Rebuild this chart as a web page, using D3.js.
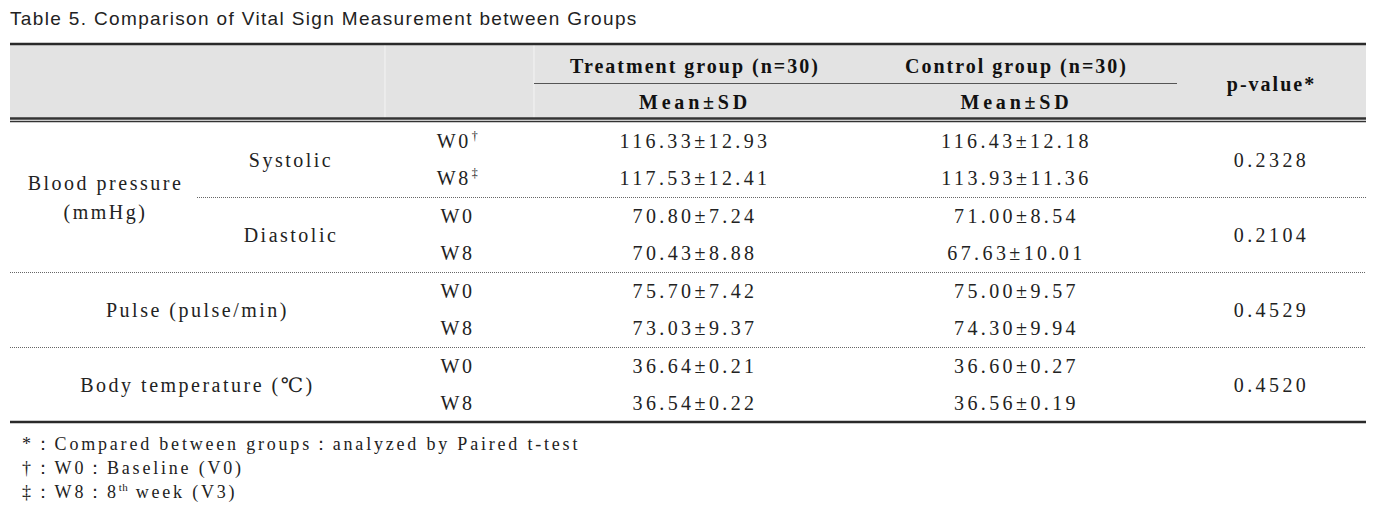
<!DOCTYPE html>
<html>
<head>
<meta charset="utf-8">
<script src="https://cdn.jsdelivr.net/npm/d3@7"></script>
<style>
  html, body { margin: 0; padding: 0; background: #ffffff; }
  svg { display: block; }
  .title { font-family: "Liberation Sans", Arial, sans-serif; font-size: 19px; fill: #222; letter-spacing: 1.35px; }
  .head { font-family: "Liberation Serif", "DejaVu Serif", serif; font-size: 20px; font-weight: bold; fill: #111; letter-spacing: 2px; }
  .stat { letter-spacing: 3.8px; }
  .cell { font-family: "Liberation Serif", "DejaVu Serif", serif; font-size: 20px; fill: #222; letter-spacing: 2.5px; }
  .num { letter-spacing: 3.4px; }
  .note { font-family: "Liberation Serif", "DejaVu Serif", serif; font-size: 18px; fill: #222; letter-spacing: 2.8px; }
  .sup { letter-spacing: 0.5px; }
</style>
</head>
<body>
<div id="table"></div>
<script>
// ---------------------------------------------------------------------------//
// Table data (Table 5. vital signs, treatment vs control)
// ---------------------------------------------------------------------------//
const titleText = "Table 5. Comparison of Vital Sign Measurement between Groups";
const groupHeads = ["Treatment group (n=30)", "Control group (n=30)"];
const statHead = "Mean\u00b1SD";
const pHead = "p-value*";

const measureLabels = [["Blood pressure", "(mmHg)"], ["Pulse (pulse/min)"], ["Body temperature (\u2103)"]];
const measureBlocks = [[0, 1], [2], [3]]; // which 2-row blocks each measure spans
const subLabels = ["Systolic", "Diastolic"]; // blocks 0 and 1 only

const timepoints = ["W0", "W8", "W0", "W8", "W0", "W8", "W0", "W8"];
const timeMarks = ["\u2020", "\u2021", "", "", "", "", "", ""];

const treatMean = [116.33, 117.53, 70.80, 70.43, 75.70, 73.03, 36.64, 36.54];
const treatSD = [12.93, 12.41, 7.24, 8.88, 7.42, 9.37, 0.21, 0.22];
const ctrlMean = [116.43, 113.93, 71.00, 67.63, 75.00, 74.30, 36.60, 36.56];
const ctrlSD = [12.18, 11.36, 8.54, 10.01, 9.57, 9.94, 0.27, 0.19];
const pValues = [0.2328, 0.2104, 0.4529, 0.4520]; // one per block of two rows

const footnotes = [
  { mark: "*", text: "\uff1aCompared between groups\uff1aanalyzed by Paired t-test" },
  { mark: "\u2020", text: "\uff1aW0\uff1aBaseline (V0)" },
  { mark: "\u2021", text: "\uff1aW8\uff1a8", sup: "th", rest: " week (V3)" },
];

// ---------------------------------------------------------------------------//
// Layout
// ---------------------------------------------------------------------------//
const width = 1386;
const height = 516;
const left = 10;
const right = 1366;
const colEdges = [left, 197, 385, 534, 856, 1177, right];
const headTop = 44;
const headBottom = 119;
const bodyTop = 122;
const bodyBottom = 422;

const fmt2 = d3.format(".2f");
const fmt4 = d3.format(".4f");

const y = d3.scaleBand().domain(d3.range(timepoints.length)).range([bodyTop, bodyBottom]);
const colMid = (i) => (colEdges[i] + colEdges[i + 1]) / 2;
const blockMid = (b) => y(b * 2) + y.bandwidth();

const svg = d3.select("#table").append("svg")
  .attr("width", width)
  .attr("height", height);

svg.append("text")
  .attr("class", "title")
  .attr("x", left)
  .attr("y", 25)
  .text(titleText);

// header background and rules
svg.append("rect")
  .attr("x", left).attr("y", headTop)
  .attr("width", right - left).attr("height", headBottom - headTop)
  .attr("fill", "#e3e3e3");

svg.selectAll("line.vdiv")
  .data([colEdges[2], colEdges[3]])
  .join("line")
  .attr("class", "vdiv")
  .attr("x1", (d) => d).attr("x2", (d) => d)
  .attr("y1", headTop).attr("y2", headBottom)
  .attr("stroke", "#f4f4f4").attr("stroke-width", 1);

svg.append("line")
  .attr("x1", colEdges[3]).attr("x2", colEdges[5])
  .attr("y1", 83.5).attr("y2", 83.5)
  .attr("stroke", "#555").attr("stroke-width", 1);

const hline = (yy, w, x1 = left, dash = null, color = "#2a2a2a") =>
  svg.append("line")
    .attr("x1", x1).attr("x2", right)
    .attr("y1", yy).attr("y2", yy)
    .attr("stroke", color).attr("stroke-width", w)
    .attr("stroke-dasharray", dash);

hline(headTop, 2.6);
hline(headBottom - 0.5, 2.4, left, null, "#333");
hline(bodyTop - 0.5, 1.4, left, null, "#333");
hline(bodyBottom, 2.6);

// dotted separators between blocks
const dotted = [
  { yy: y(2), x1: colEdges[1] },
  { yy: y(4), x1: left },
  { yy: y(6), x1: left },
];
dotted.forEach((d) => hline(Math.round(d.yy) + 0.5, 1, d.x1, "1,1", "#666"));

// header text
groupHeads.forEach((g, i) => {
  svg.append("text").attr("class", "head")
    .attr("x", colMid(3 + i)).attr("y", 66).attr("dy", "0.35em")
    .attr("text-anchor", "middle").text(g);
  svg.append("text").attr("class", "head stat")
    .attr("x", colMid(3 + i)).attr("y", 102).attr("dy", "0.35em")
    .attr("text-anchor", "middle").text(statHead);
});
svg.append("text").attr("class", "head")
  .attr("x", colMid(5)).attr("y", 84).attr("dy", "0.35em")
  .attr("text-anchor", "middle").text(pHead);

// measure labels
measureLabels.forEach((lines, m) => {
  const blocks = measureBlocks[m];
  const top = y(blocks[0] * 2);
  const bottom = y(blocks[blocks.length - 1] * 2 + 1) + y.bandwidth();
  const cy = (top + bottom) / 2;
  const cx = blocks.length > 1 ? colMid(0) + 2 : (colEdges[0] + colEdges[2]) / 2;
  const lh = 29;
  lines.forEach((ln, k) => {
    svg.append("text").attr("class", "cell")
      .attr("x", cx)
      .attr("y", cy + (k - (lines.length - 1) / 2) * lh)
      .attr("dy", "0.35em")
      .attr("text-anchor", "middle")
      .text(ln);
  });
});

// sub labels (Systolic / Diastolic)
subLabels.forEach((s, b) => {
  svg.append("text").attr("class", "cell")
    .attr("x", colMid(1)).attr("y", blockMid(b)).attr("dy", "0.35em")
    .attr("text-anchor", "middle").text(s);
});

// time points
const tp = svg.selectAll("text.tp")
  .data(timepoints)
  .join("text")
  .attr("class", "cell tp")
  .attr("x", colMid(2) - 2)
  .attr("y", (d, i) => y(i) + y.bandwidth() / 2)
  .attr("dy", "0.35em")
  .attr("text-anchor", "middle");
tp.append("tspan").text((d) => d);
tp.append("tspan")
  .attr("class", "sup")
  .attr("font-size", "12px")
  .attr("dx", 1)
  .attr("dy", -8)
  .text((d, i) => timeMarks[i]);

// value columns
const valueCols = [
  { col: 3, mean: treatMean, sd: treatSD },
  { col: 4, mean: ctrlMean, sd: ctrlSD },
];
valueCols.forEach((vc) => {
  svg.selectAll(null)
    .data(vc.mean)
    .join("text")
    .attr("class", "cell num")
    .attr("x", colMid(vc.col))
    .attr("y", (d, i) => y(i) + y.bandwidth() / 2)
    .attr("dy", "0.35em")
    .attr("text-anchor", "middle")
    .text((d, i) => `${fmt2(d)}\u00b1${fmt2(vc.sd[i])}`);
});

// p-values
svg.selectAll("text.pv")
  .data(pValues)
  .join("text")
  .attr("class", "cell num pv")
  .attr("x", colMid(5))
  .attr("y", (d, b) => blockMid(b))
  .attr("dy", "0.35em")
  .attr("text-anchor", "middle")
  .text((d) => fmt4(d));

// footnotes
const notes = svg.selectAll("text.note")
  .data(footnotes)
  .join("text")
  .attr("class", "note")
  .attr("x", 22)
  .attr("y", (d, i) => 450 + i * 24);
notes.append("tspan").text((d) => d.mark);
notes.append("tspan").text((d) => d.text);
notes.filter((d) => d.sup)
  .append("tspan")
  .attr("class", "sup")
  .attr("font-size", "11px")
  .attr("dy", -7)
  .text((d) => d.sup);
notes.filter((d) => d.rest)
  .append("tspan")
  .attr("dy", 7)
  .text((d) => d.rest);
</script>
</body>
</html>
